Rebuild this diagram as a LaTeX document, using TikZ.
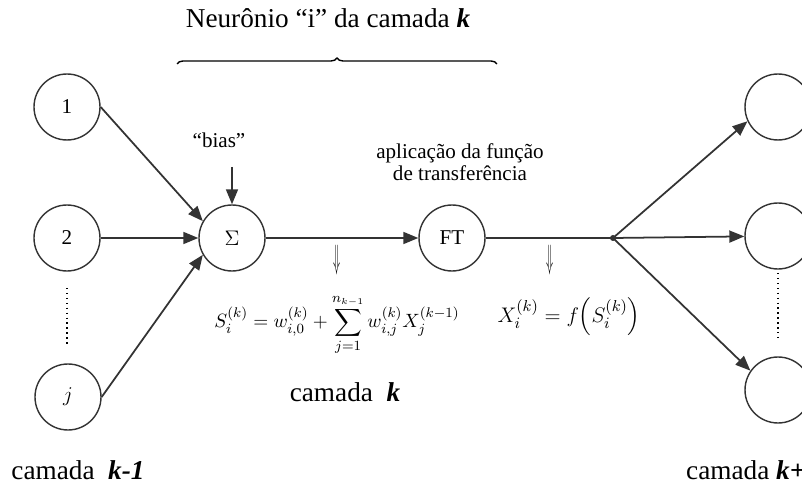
\documentclass[tikz,border=0pt]{standalone}
\usepackage{fontspec}
\setmainfont{Liberation Serif}
\usepackage{amsmath}
\usetikzlibrary{arrows.meta,positioning,decorations.pathreplacing}

\begin{document}
\begin{tikzpicture}[
    x=0.02cm, y=-0.02cm,
    >={Triangle[length=3mm,width=2.4mm]},
    unit/.style={draw=black!80, line width=0.8pt, circle, minimum size=1.32cm, inner sep=0pt, font=\fontsize{12}{14}\selectfont},
    link/.style={draw=black!80, line width=1pt},
    small/.style={font=\fontsize{12}{12.5}\selectfont, align=center},
    layer/.style={font=\fontsize{15.5}{18}\selectfont},
    eqn/.style={font=\fontsize{11}{13}\selectfont},
    down/.style={inner sep=0pt, font=\fontsize{12}{14}\selectfont}
]
\useasboundingbox (0,0) rectangle (802,486);
\clip (0,0) rectangle (802,486);

% layer k-1
\node[unit] (in1) at (67,107) {1};
\node[unit] (in2) at (67,238) {2};
\node[unit] (inj) at (68,397) {$j$};
\draw[dotted, line width=0.8pt] (67,288) -- (67,345);

% neuron i of layer k
\node[unit] (sum) at (232,238) {$\Sigma$};
\node[unit] (ft) at (452,238) {FT};
\coordinate (jn) at (613,238);
\coordinate (biasin) at (232,167);
\node[small] (bias) at (219,140) {``bias''};
\node[small] (apl) at (460,162) {aplicação da função\\de transferência};

% layer k+1
\node[unit] (o1) at (778,107) {};
\node[unit] (o2) at (778,236) {};
\node[unit] (o3) at (778,390) {};
\draw[dotted, line width=0.8pt] (778,273) -- (778,337);

\draw[link,->] (in1.east) -- (sum.150);
\draw[link,->] (in2) -- (sum);
\draw[link,->] (inj.east) -- (sum.210);
\draw[link,->] (biasin) -- (sum);
\draw[link,->] (sum) -- (ft);
\draw[link] (ft) -- (jn);
\fill[black!80] (jn) circle (3);
\draw[link,->] (jn) -- (o1.205);
\draw[link,->] (jn) -- (o2);
\draw[link,->] (jn) -- (o3.145);

% brace and titles
\node[layer] (title) at (328,18) {Neurônio ``i'' da camada \textbf{\textit{k}}};
\draw[line width=0.8pt, decorate, decoration={brace, amplitude=0.12cm}] (177,64) -- (497,64);

\node[down] (d1) at (337,260) {\scalebox{0.55}[1.6]{$\Downarrow$}};
\node[down] (d2) at (550,260) {\scalebox{0.55}[1.6]{$\Downarrow$}};
\node[eqn] (eqs) at (337,325) {$\displaystyle S_i^{(k)}=w_{i,0}^{(k)}+\sum_{j=1}^{n_{k-1}}w_{i,j}^{(k)}X_j^{(k-1)}$};
\node[eqn, font=\fontsize{12.5}{14}\selectfont] (eqx) at (569,317) {$\displaystyle X_i^{(k)}=f\!\left(S_i^{(k)}\right)$};

\node[layer] (lk) at (345,392) {camada \ \textbf{\textit{k}}};
\node[layer] (lkm) at (78,470) {camada \ \textbf{\textit{k-1}}};
\node[layer, anchor=west] (lkp) at (680,470) {camada \textbf{\textit{k+1}}};
\end{tikzpicture}
\end{document}
